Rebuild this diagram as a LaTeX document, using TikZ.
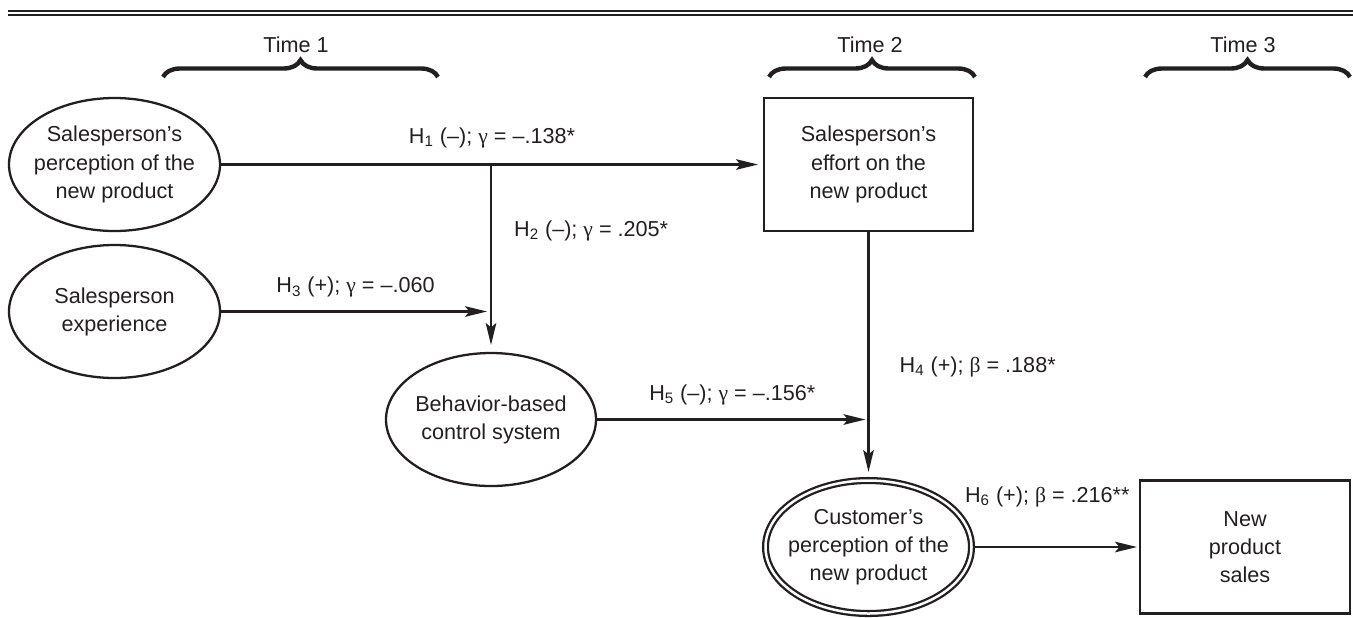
\documentclass[tikz,border=0pt]{standalone}
\usepackage{fontspec}
\setmainfont{Liberation Sans}
\newfontfamily\greekfont{Liberation Serif}
\usepackage{tikz}
\usetikzlibrary{arrows.meta,decorations.pathreplacing,positioning,shapes.geometric}
\definecolor{ink}{HTML}{231F20}
\newcommand{\gam}{{\greekfont γ}}
\newcommand{\bet}{{\greekfont β}}

\begin{document}
\begin{tikzpicture}[>={Stealth[length=12.5pt,width=6pt,inset=2.5pt]},
    font=\fontsize{12.3pt}{16pt}\selectfont,color=ink,line width=1.3pt,
    construct/.style={draw,ellipse,align=center,outer sep=0pt,inner xsep=-0.3cm,inner ysep=0pt,
      minimum width=4.22cm,minimum height=2.66cm},
    measure/.style={draw,rectangle,align=center,outer sep=0pt,minimum width=4.18cm,minimum height=2.66cm},
    timebrace/.style={decorate,decoration={brace,amplitude=0.34cm},line width=2.5pt}]
  \useasboundingbox (0,0) rectangle (27.06,-12.34);
  % rule across the top
  \draw[line width=1.1pt] (0.16,-0.22) -- (27.06,-0.22);
  \draw[line width=1.1pt] (0.16,-0.30) -- (27.06,-0.30);

  \node (time1) at (5.92,-0.9) {Time 1};
  \node (time2) at (17.40,-0.9) {Time 2};
  \node (time3) at (24.86,-0.9) {Time 3};
  \draw[timebrace] (3.26,-1.54) -- (8.76,-1.54);
  \draw[timebrace] (15.38,-1.54) -- (19.50,-1.54);
  \draw[timebrace] (22.90,-1.54) -- (27.00,-1.54);

  \node[construct] (perception) at (2.29,-3.29) {Salesperson’s\\perception of the\\new product};
  \node[construct,below=0.28cm of perception] (experience) {Salesperson\\experience};
  \node[measure,right=10.88cm of perception] (effort) {Salesperson’s\\effort on the\\new product};
  \node[construct,minimum width=4.2cm] (control) at (9.82,-8.39) {Behavior-based\\control system};
  \node[construct,double,double distance=0.05cm,minimum width=4.12cm,below=4.99cm of effort] (customer)
    {Customer’s\\perception of the\\new product};
  \node[measure,minimum width=4.2cm,right=3.37cm of customer] (sales) {New\\product\\sales};

  \coordinate (split) at (perception.east -| control.north);
  \coordinate (h3end) at (experience.east -| control.north);
  \coordinate (h5end) at (control.east -| effort.south);

  \draw[->,shorten >=0.12cm] (perception) -- node[above=0.31cm,inner sep=0pt]{H\textsubscript{1} (–); \gam\ = –.138*} (effort);
  \draw[->,shorten >=0.16cm] (split) -- node[pos=0.35,right=0.44cm,inner sep=0pt]{H\textsubscript{2} (–); \gam\ = .205*} (control);
  \draw[->,shorten >=0.08cm] (experience) -- node[above=0.26cm,inner sep=0pt]{H\textsubscript{3} (+); \gam\ = –.060} (h3end);
  \draw[->,shorten >=0.06cm] (control) -- node[above=0.26cm,inner sep=0pt]{H\textsubscript{5} (–); \gam\ = –.156*} (h5end);
  \draw[->,shorten >=0.17cm] (effort) -- node[pos=0.545,right=0.6cm,inner sep=0pt]{H\textsubscript{4} (+); \bet\ = .188*} (customer);
  \draw[->,shorten <=0.07cm,shorten >=0.06cm] (customer) -- node[pos=0.45,above=0.78cm,inner sep=0pt]{H\textsubscript{6} (+); \bet\ = .216**} (sales);
\end{tikzpicture}
\end{document}
